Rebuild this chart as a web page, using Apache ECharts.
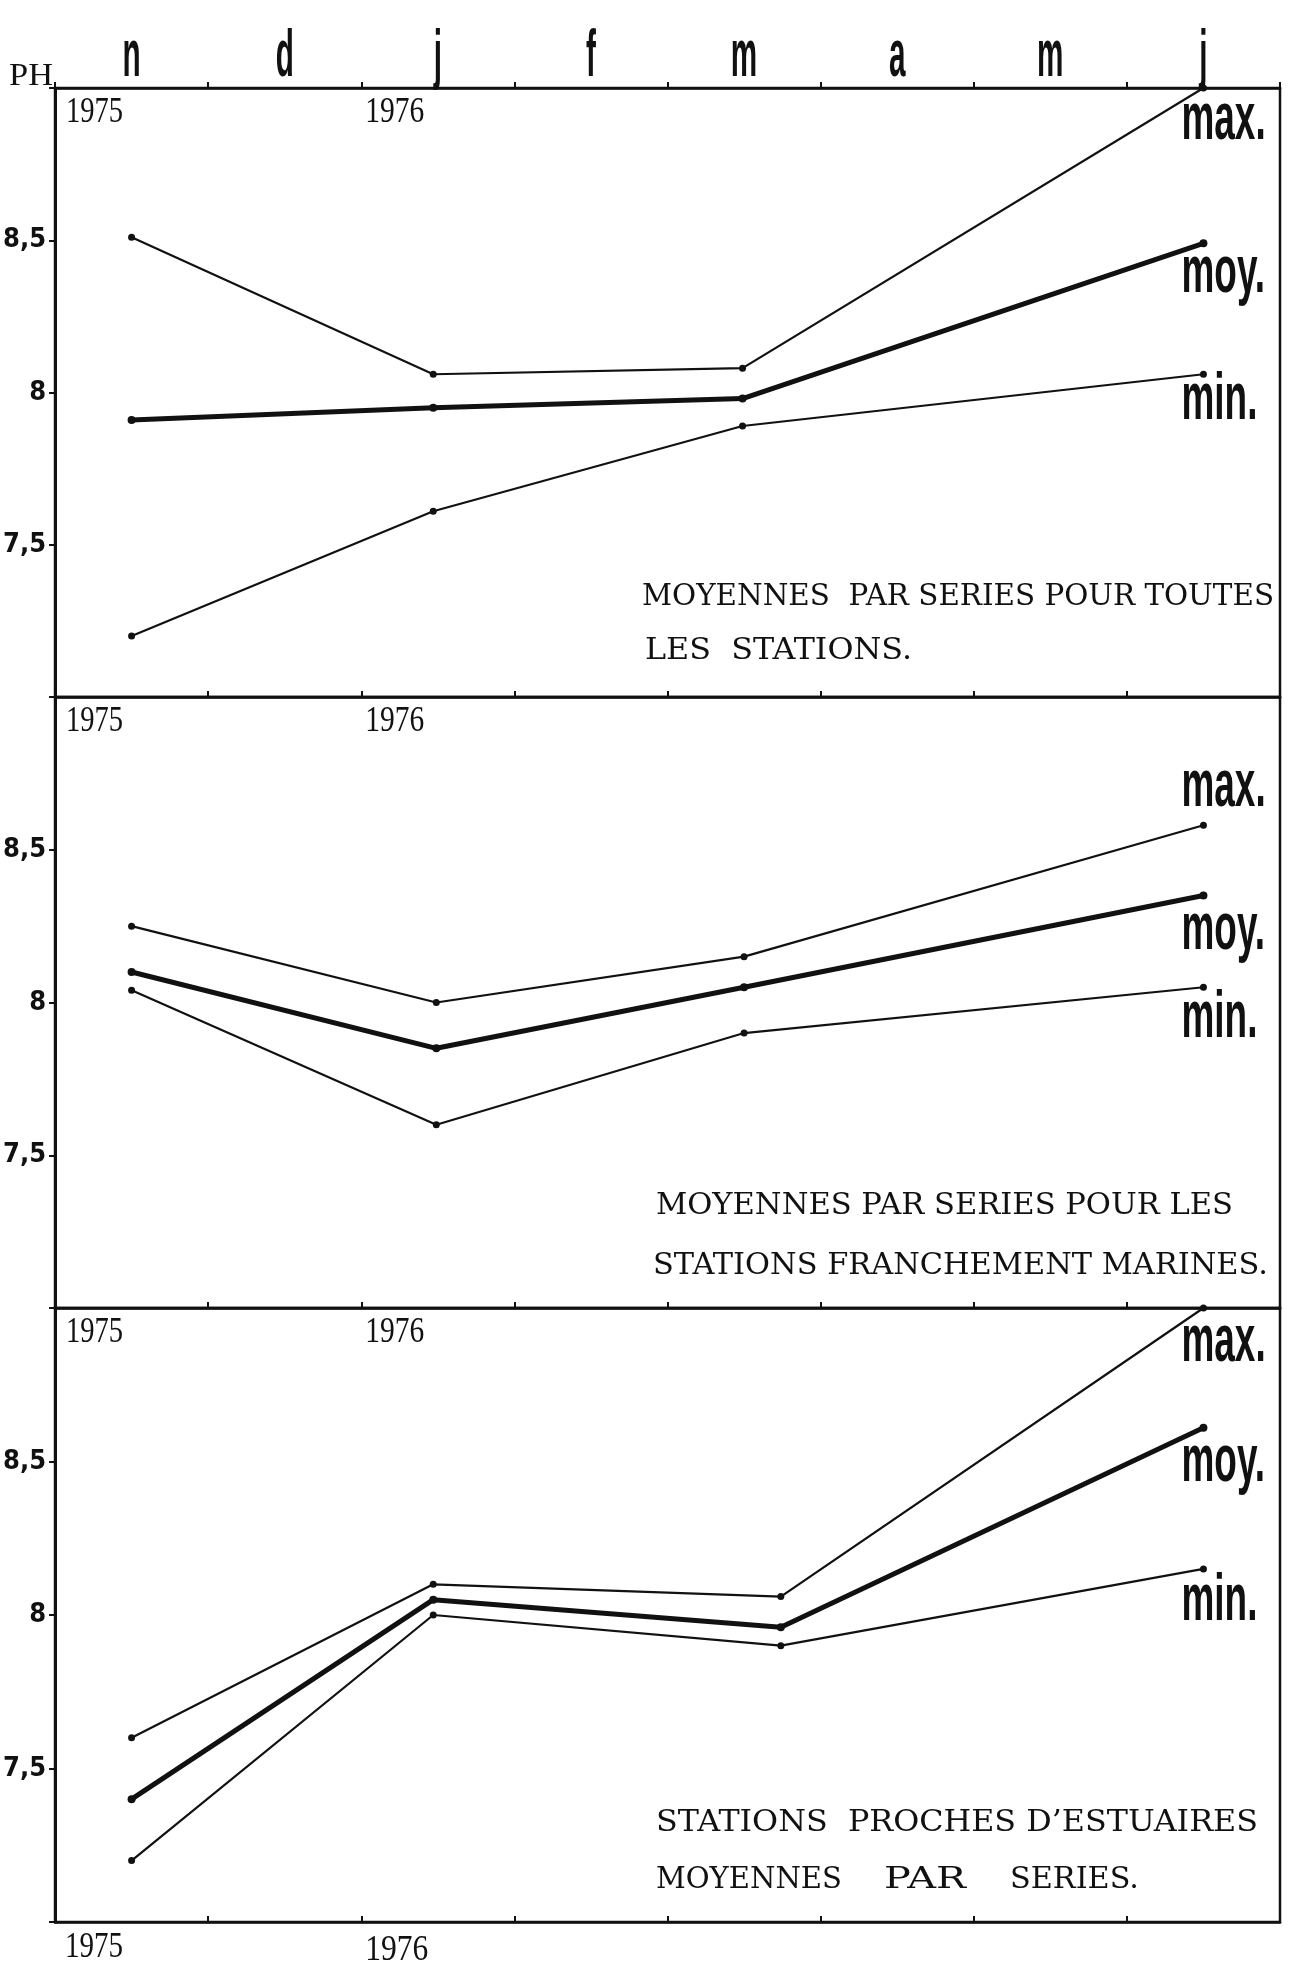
<!DOCTYPE html>
<html><head><meta charset="utf-8">
<script src="https://cdn.jsdelivr.net/npm/echarts@6/dist/echarts.min.js"></script>
<style>html,body{margin:0;padding:0;background:#fff}#c{width:1297px;height:1963px}</style>
</head><body><div id="c"></div>
<script>
// ---- data ----
const months = ['n','d','j','f','m','a','m','j'];
const yTickValues = [7.5, 8, 8.5];
const yearLabels = ['1975','1976'];
const seriesNames = ['max.','moy.','min.'];

const p1X = [0.5, 2.47, 4.49, 7.5];
const p1Max = [8.51, 8.06, 8.08, 9.0];
const p1Moy = [7.91, 7.95, 7.98, 8.49];
const p1Min = [7.20, 7.61, 7.89, 8.06];

const p2X = [0.5, 2.49, 4.5, 7.5];
const p2Max = [8.25, 8.00, 8.15, 8.58];
const p2Moy = [8.10, 7.85, 8.05, 8.35];
const p2Min = [8.04, 7.60, 7.90, 8.05];

const p3X = [0.5, 2.47, 4.74, 7.5];
const p3Max = [7.60, 8.10, 8.06, 9.0];
const p3Moy = [7.40, 8.05, 7.96, 8.61];
const p3Min = [7.20, 8.00, 7.90, 8.15];

const p1Title = ['MOYENNES  PAR SERIES POUR TOUTES', 'LES  STATIONS.'];
const p2Title = ['MOYENNES PAR SERIES POUR LES', 'STATIONS FRANCHEMENT MARINES.'];
const p3Title = ['STATIONS  PROCHES D\u2019ESTUAIRES', 'MOYENNES', 'PAR', 'SERIES.'];

// ---- layout ----
const INK = '#111';
const gridTops = [88, 697, 1308];
const gridHeights = [609, 611, 614];
const GL = 55, GR = 17;
const panels = [
  {x: p1X, vals: [p1Max, p1Moy, p1Min]},
  {x: p2X, vals: [p2Max, p2Moy, p2Min]},
  {x: p3X, vals: [p3Max, p3Moy, p3Min]}
];

const chart = echarts.init(document.getElementById('c'), null, {renderer: 'canvas'});

const grids = gridTops.map((t, i) => ({
  left: GL, right: GR, top: t, height: gridHeights[i],
  show: true, borderColor: INK, borderWidth: 2.5, backgroundColor: 'transparent'
}));

const xAxes = gridTops.map((t, i) => ({
  gridIndex: i, type: 'value', min: 0, max: 8, interval: 1, position: 'bottom',
  axisLine: {show: true, onZero: false, lineStyle: {color: INK, width: 2.5}},
  axisTick: {show: true, inside: true, length: 6, lineStyle: {color: INK, width: 2}},
  axisLabel: {show: false}, splitLine: {show: false}
}));
xAxes.push({
  gridIndex: 0, type: 'category', data: months, position: 'top', boundaryGap: true,
  axisLine: {show: true, lineStyle: {color: INK, width: 2.5}},
  axisTick: {show: true, inside: false, length: 6, lineStyle: {color: INK, width: 2}},
  axisLabel: {show: false}, splitLine: {show: false}
});

const yAxes = gridTops.map((t, i) => ({
  gridIndex: i, type: 'value', min: 7, max: 9, interval: 0.5,
  axisLine: {show: true, onZero: false, lineStyle: {color: INK, width: 3}},
  axisTick: {show: true, inside: false, length: 6, lineStyle: {color: INK, width: 2}},
  axisLabel: {
    show: true, margin: 9, color: INK,
    fontFamily: '"Liberation Sans Narrow", "DejaVu Sans Condensed", "Liberation Sans", sans-serif',
    fontWeight: 'bold', fontSize: 27,
    formatter: v => yTickValues.indexOf(v) >= 0 ? String(v).replace('.', ',') : ''
  },
  splitLine: {show: false}
}));

const series = [];
panels.forEach((p, i) => {
  p.vals.forEach((arr, k) => {
    series.push({
      type: 'line', name: seriesNames[k] + ' ' + (i + 1),
      xAxisIndex: i, yAxisIndex: i, clip: false,
      data: p.x.map((xv, j) => [xv, arr[j]]),
      symbol: 'circle', symbolSize: k === 1 ? 8 : 7,
      itemStyle: {color: INK},
      lineStyle: {color: INK, width: k === 1 ? 5 : 2.2},
      emphasis: {disabled: true}, silent: true
    });
  });
});

chart.setOption({
  animation: false, backgroundColor: '#fff',
  grid: grids, xAxis: xAxes, yAxis: yAxes, series: series
});

// ---- annotations (positioned through the chart's scales) ----
const mctx = document.createElement('canvas').getContext('2d');
function fit(text, font, w) { mctx.font = font; return w / mctx.measureText(text).width; }
function txt(text, x, y, font, opts) {
  opts = opts || {};
  const sx = opts.width ? fit(text, font, opts.width) : (opts.scaleX || 1);
  const align = opts.align || 'left';
  return {
    type: 'text', x: x, y: y, scaleX: sx, scaleY: opts.scaleY || 1, silent: true,
    style: {text: text, font: font, fill: INK, align: align, textAlign: align,
            verticalAlign: 'middle', textVerticalAlign: 'middle'}
  };
}
const G = [];
const condensed = 'bold 66px "Liberation Sans", Arial, sans-serif';
const serif = '"Liberation Serif", "Times New Roman", serif';
const capSerif = '"DejaVu Serif", "Liberation Serif", serif';

// month letters on top axis
months.forEach((m, i) => {
  const px = chart.convertToPixel({xAxisIndex: 3}, i);
  G.push(txt(m, px, gridTops[0] - 30, condensed, {align: 'center', scaleX: 0.45}));
});
// PH
G.push(txt('PH', 9, 77, '32px ' + serif, {width: 44}));

// max./moy./min. labels at end of each series
const labelDy = [[33, 31, 27], [-38, 35, 32], [35, 35, 33]];
panels.forEach((p, i) => {
  p.vals.forEach((arr, k) => {
    const n = p.x.length - 1;
    const pt = chart.convertToPixel({gridIndex: i}, [p.x[n], arr[n]]);
    G.push(txt(seriesNames[k], pt[0] - 22, pt[1] + labelDy[i][k], condensed, {scaleX: 0.56}));
  });
});

// year labels
const yearFont = '36px ' + serif;
gridTops.forEach((t, i) => {
  const x0 = chart.convertToPixel({xAxisIndex: i}, 0);
  const x2 = chart.convertToPixel({xAxisIndex: i}, 2);
  G.push(txt(yearLabels[0], x0 + 11, t + 25, yearFont, {width: 57}));
  G.push(txt(yearLabels[1], x2 + 4, t + 25, yearFont, {width: 59}));
});
{
  const x0 = chart.convertToPixel({xAxisIndex: 2}, 0);
  const x2 = chart.convertToPixel({xAxisIndex: 2}, 2);
  const b = gridTops[2] + gridHeights[2];
  G.push(txt(yearLabels[0], x0 + 10, b + 26, yearFont, {width: 58}));
  G.push(txt(yearLabels[1], x2 + 4, b + 29, yearFont, {width: 63}));
}

// panel captions
const capFont = '29px ' + capSerif;
G.push(txt(p1Title[0], 642, 597, capFont, {width: 632}));
G.push(txt(p1Title[1], 645, 651, capFont, {width: 267}));
G.push(txt(p2Title[0], 656, 1206, capFont, {width: 577}));
G.push(txt(p2Title[1], 653, 1266, capFont, {width: 615}));
G.push(txt(p3Title[0], 656, 1823, capFont, {width: 602}));
G.push(txt(p3Title[1], 656, 1880, capFont, {width: 186}));
G.push(txt(p3Title[2], 884, 1880, capFont, {width: 82}));
G.push(txt(p3Title[3], 1010, 1880, capFont, {width: 129}));

chart.setOption({graphic: {elements: G}});
</script></body></html>
